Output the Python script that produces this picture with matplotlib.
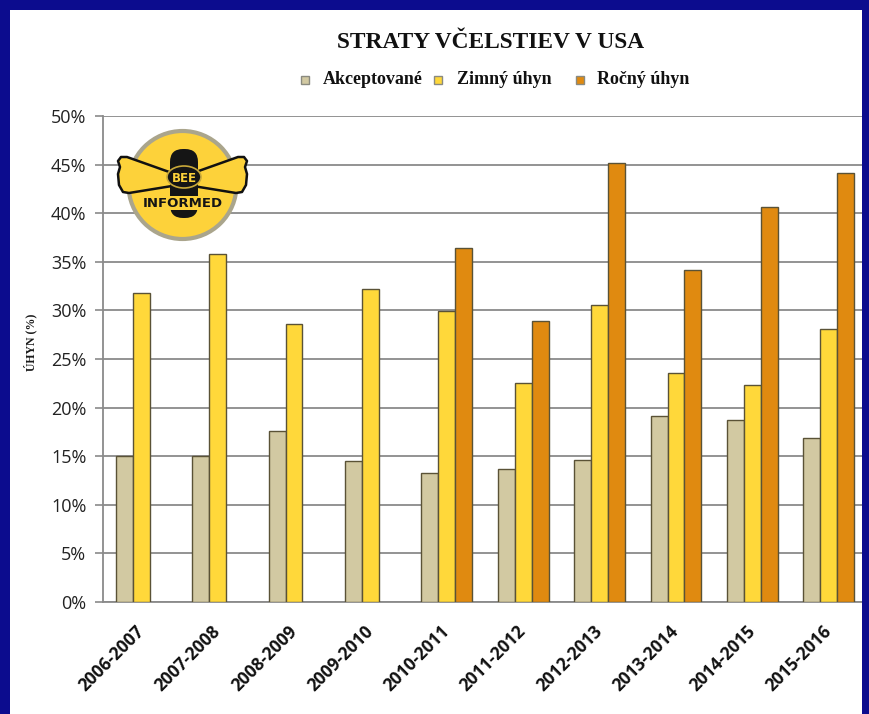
import numpy as np
import matplotlib
matplotlib.use("Agg")
import matplotlib.pyplot as plt
from matplotlib.patches import Rectangle, Circle, Polygon, FancyBboxPatch, Ellipse

# ---- data ----
categories = ['2006-2007', '2007-2008', '2008-2009', '2009-2010', '2010-2011',
              '2011-2012', '2012-2013', '2013-2014', '2014-2015', '2015-2016']
acceptable = [15.0, 15.0, 17.6, 14.5, 13.3, 13.7, 14.6, 19.1, 18.7, 16.9]
winter = [31.8, 35.8, 28.6, 32.2, 29.9, 22.5, 30.6, 23.6, 22.3, 28.1]
annual = [np.nan, np.nan, np.nan, np.nan, 36.4, 28.9, 45.2, 34.2, 40.6, 44.1]
series_names = ['Akceptované', 'Zimný úhyn', 'Ročný úhyn']
series_colors = ['#D2C9A2', '#FFD83A', '#E08A10']
yticks = [0, 5, 10, 15, 20, 25, 30, 35, 40, 45, 50]
title = 'STRATY VČELSTIEV V USA'
ylabel = 'ÚHYN (%)'

W, H = 869, 714
fig = plt.figure(figsize=(W / 100, H / 100), dpi=100)
fig.patch.set_facecolor('#0c0c8e')

def fx(px):
    return px / W

def fy(py):
    return 1 - py / H

# white panel
fig.patches.append(Rectangle((fx(10), 0), fx(862) - fx(10), fy(10), transform=fig.transFigure,
                             facecolor='white', edgecolor='none', zorder=-5))

# main axes
ax_left, ax_right = 103, 867
ax_top, ax_bot = 116, 602
ax = fig.add_axes([fx(ax_left), fy(ax_bot), fx(ax_right - ax_left), (ax_bot - ax_top) / H])
ax.set_facecolor('none')

x = np.arange(len(categories))
bw = 0.2225
edge = '#5a5236'
for i, (vals, col, name) in enumerate(zip([acceptable, winter, annual], series_colors, series_names)):
    ax.bar(x + (i - 1) * bw, vals, width=bw, color=col, edgecolor=edge, linewidth=1.0,
           label=name, zorder=3)

ax.set_xlim(-0.5, len(categories) - 0.5)
ax.set_ylim(0, 50)
ax.set_yticks(yticks)
ax.set_yticklabels([f'{v}%' for v in yticks], fontfamily='Open Sans', fontsize=13, color='#222222')
ax.yaxis.grid(True, color='#8a8a8a', linewidth=1.3, zorder=0)
ax.set_axisbelow(True)
ax.tick_params(axis='y', length=6, width=1.2, color='#8a8a8a', pad=6)
ax.set_xticks(x)
ax.set_xticklabels(categories, rotation=45, ha='right', va='center', rotation_mode='anchor',
                   fontfamily='Open Sans', fontweight='bold', fontsize=12.5, color='#111111')
ax.tick_params(axis='x', length=0, pad=19)
for s in ['top', 'right']:
    ax.spines[s].set_visible(False)
for s in ['left', 'bottom']:
    ax.spines[s].set_color('#8a8a8a')
    ax.spines[s].set_linewidth(1.3)

# right blue border on top of the chart
fig.patches.append(Rectangle((fx(862), 0), 1 - fx(862), 1, transform=fig.transFigure,
                             facecolor='#0c0c8e', edgecolor='none', zorder=10))

# title
fig.text(fx(491), fy(42), title, ha='center', va='center', fontfamily='Liberation Serif',
         fontweight='bold', fontsize=16.8, color='#111111')

# legend
sq_x = [305, 438, 580]
tx_x = [323, 457, 597]
for sx, tx, col, name in zip(sq_x, tx_x, series_colors, series_names):
    fig.patches.append(Rectangle((fx(sx - 4), fy(80 + 4)), fx(8), 8 / H, transform=fig.transFigure,
                                 facecolor=col, edgecolor='#8a8a80', linewidth=1.0, zorder=5))
    fig.text(fx(tx), fy(80), name, ha='left', va='center', fontfamily='Liberation Serif',
             fontweight='bold', fontsize=13, color='#111111')

# y label
fig.text(fx(30), fy(342), ylabel, rotation=90, ha='center', va='center',
         fontfamily='Liberation Serif', fontweight='bold', fontsize=8.5, color='#1a1a1a')

# ---- logo ----
lx0, lx1, ly0, ly1 = 110, 255, 118, 252
lax = fig.add_axes([fx(lx0), fy(ly1), fx(lx1 - lx0), (ly1 - ly0) / H])
lax.set_xlim(lx0, lx1)
lax.set_ylim(ly1, ly0)
lax.axis('off')
yel = '#FDD23A'
lax.add_patch(Circle((182.5, 185), 54, facecolor=yel, edgecolor='#aaa58c', linewidth=3))
lw_pts = [(172, 173), (127, 157), (121, 157), (118, 161), (120, 167), (118, 174),
          (119, 185), (123, 192), (129, 193), (172, 186)]
rw_pts = [(365 - px, py) for px, py in lw_pts]
for pts in [lw_pts, rw_pts]:
    lax.add_patch(Polygon(pts, closed=True, facecolor=yel, edgecolor='#111111', linewidth=1.8,
                          joinstyle='round'))
lax.add_patch(FancyBboxPatch((170, 149), 28, 69, boxstyle='round,pad=0,rounding_size=13',
                             facecolor='#151515', edgecolor='none'))
lax.add_patch(Ellipse((184, 177), 34, 22, facecolor='#151515', edgecolor='#c9a93a', linewidth=1.2))
lax.add_patch(Rectangle((166, 196), 36, 14, facecolor=yel, edgecolor='none'))
lax.text(184, 178, 'BEE', ha='center', va='center', fontsize=8.5, fontweight='bold', color=yel,
         fontfamily='DejaVu Sans')
lax.text(182.5, 203, 'INFORMED', ha='center', va='center', fontsize=9.5, fontweight='bold',
         color='#151515', fontfamily='DejaVu Sans')

fig.savefig('out.png', dpi=100, facecolor=fig.get_facecolor())
